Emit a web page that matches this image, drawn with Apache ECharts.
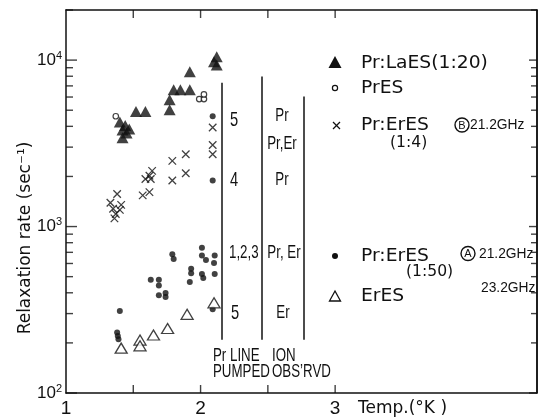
<!DOCTYPE html>
<html>
<head>
<meta charset="utf-8">
<script src="https://cdn.jsdelivr.net/npm/echarts@6/dist/echarts.min.js"></script>
<style>
  html, body { margin: 0; padding: 0; background: #fff; }
  #chart { width: 539px; height: 418px; }
</style>
</head>
<body>
<div id="chart"></div>
<script>
// Pr:LaES (1:20) — filled triangles
const laesTemp = [1.40, 1.44, 1.47, 1.42, 1.45, 1.42, 1.52, 1.59, 1.77, 1.77, 1.80, 1.85, 1.92, 1.92, 2.10, 2.12, 2.12];
const laesRate = [4250, 4050, 3850, 3800, 3650, 3420, 4920, 4920, 5780, 5040, 6630, 6630, 6630, 8510, 9770, 10460, 9340];

// PrES — small open circles
const presTemp = [1.37, 1.99, 2.025, 2.025];
const presRate = [4600, 5830, 5830, 6220];

// Pr:ErES (1:4), B 21.2 GHz — crosses
const erB_Temp = [1.33, 1.38, 1.41, 1.35, 1.40, 1.37, 1.36, 1.57, 1.62, 1.59, 1.63, 1.62, 1.64, 1.79, 1.79, 1.89, 1.89, 2.09, 2.09, 2.09];
const erB_Rate = [1390, 1570, 1350, 1280, 1260, 1190, 1120, 1540, 1610, 1930, 1930, 2020, 2160, 2480, 1890, 2720, 2090, 3940, 3090, 2720];

// Pr:ErES (1:50), A 21.2 GHz — filled dots
const erA_Temp = [1.40, 1.38, 1.385, 1.39, 1.63, 1.69, 1.69, 1.69, 1.74, 1.74, 1.79, 1.80, 1.93, 1.93, 1.92, 2.01, 2.01, 2.04, 2.01, 2.02, 2.105, 2.10, 2.105, 2.09, 2.09, 2.09];
const erA_Rate = [311, 231, 220, 210, 479, 479, 443, 387, 399, 377, 681, 638, 557, 525, 464, 747, 670, 630, 518, 490, 670, 603, 518, 318, 4600, 1890];

// ErES, 23.2 GHz — open triangles
const eresTemp = [1.41, 1.55, 1.55, 1.65, 1.755, 1.90, 2.10];
const eresRate = [186, 208, 192, 223, 244, 297, 348];

// Axis ticks
const xTickValues = [1.5, 2, 2.5, 3];
const xLabelValues = [1, 2, 3];
const yMajorValues = [100, 1000, 10000];
const yMinorValues = [];
yMajorValues.forEach(d => { for (let k = 2; k <= 9; k++) { if (d * k <= 20000) yMinorValues.push(d * k); } });

// Vertical divider lines of the pumping / observed-ion table: [temperature, top rate, bottom rate]
const dividerLines = [[2.16, 7300, 209], [2.458, 7960, 209], [2.764, 6050, 209]];

const pairs = (xs, ys) => xs.map((x, i) => [x, ys[i]]);

const chart = echarts.init(document.getElementById('chart'), null, { renderer: 'canvas' });

const black = '#111';
const sansFont = '"DejaVu Sans", sans-serif';
const plainFont = '"Liberation Sans", Arial, sans-serif';
const X_MIN = 1, X_MAX = 4.5;
const Y_MIN = 100, Y_MAX = 20000;

const isDecade = v => { const e = Math.log10(v); return Math.abs(e - Math.round(e)) < 1e-6; };

// Inward tick marks drawn as thin bar symbols sitting on the frame
function tickSeries(name, data, size, offset) {
  return { name: name, type: 'scatter', silent: true, clip: false, z: 4,
    symbol: 'rect', symbolSize: size, symbolOffset: offset,
    itemStyle: { color: black }, data: data };
}

function yAxisDef(position, labels) {
  return {
    type: 'log', min: Y_MIN, max: Y_MAX, position: position,
    axisLine: { show: true, onZero: false, lineStyle: { color: black, width: 1.5 } },
    axisTick: { show: false },
    axisLabel: labels ? {
      show: true, margin: 4, showMaxLabel: false,
      fontFamily: plainFont, fontSize: 17, color: black,
      formatter: v => isDecade(v) ? '10{s|' + Math.round(Math.log10(v)) + '}' : '',
      rich: { s: { fontSize: 11, fontFamily: plainFont, color: black, verticalAlign: 'top', padding: [0, 0, 9, 0] } }
    } : { show: false },
    splitLine: { show: false }
  };
}

// text helper; sx stretches or condenses the lettering horizontally
const text = (x, y, str, size, font, align, sx) => ({
  type: 'text', x: x, y: y, silent: true, scaleX: sx || 1,
  style: { text: str, fontSize: size, fontFamily: font || sansFont, fill: black,
           textAlign: align || 'left', textVerticalAlign: 'middle' }
});
const legendText = (x, y, str, size) => text(x, y, str, size || 18, sansFont, 'left', 1.04);
const tableText = (x, y, str, align, size) => text(x, y, str, size || 19, plainFont, align || 'left', 0.7);

const seg = (x1, y1, x2, y2, w) => ({ type: 'polyline', silent: true,
  shape: { points: [[x1, y1], [x2, y2]] }, style: { stroke: black, lineWidth: w || 1.4, fill: null } });

const graphics = [
  // y-axis title
  { type: 'text', x: 26, y: 238, rotation: Math.PI / 2, silent: true,
    style: { text: 'Relaxation rate (sec\u207B\u00B9)', fontSize: 17, fontFamily: sansFont, fill: black,
             textAlign: 'center', textVerticalAlign: 'middle' } },
  text(358, 409, 'Temp.(\u00B0K )', 17, sansFont),

  // legend keys
  { type: 'polygon', silent: true, shape: { points: [[335, 56], [341.5, 68], [328.5, 68]] }, style: { fill: black } },
  { type: 'circle', silent: true, shape: { cx: 335, cy: 88, r: 2.6 }, style: { fill: '#fff', stroke: black, lineWidth: 1.2 } },
  seg(333, 122, 340, 129, 1.3),
  seg(340, 122, 333, 129, 1.3),
  { type: 'circle', silent: true, shape: { cx: 335, cy: 256, r: 3 }, style: { fill: black } },
  { type: 'polygon', silent: true, shape: { points: [[335, 291], [340.5, 301], [329.5, 301]] }, style: { fill: '#fff', stroke: black, lineWidth: 1.3 } },

  // legend text
  legendText(361, 63, 'Pr:LaES(1:20)'),
  legendText(361, 88, 'PrES'),
  legendText(361, 125, 'Pr:ErES'),
  legendText(390, 143, '(1:4)', 15),
  legendText(361, 256, 'Pr:ErES'),
  legendText(406, 272, '(1:50)', 15),
  legendText(361, 296, 'ErES'),

  // frequency tags
  { type: 'circle', silent: true, shape: { cx: 462, cy: 125, r: 7 }, style: { fill: 'none', stroke: black, lineWidth: 1.4 } },
  text(462, 125.5, 'B', 11, plainFont, 'center'),
  text(470, 125, '21.2GHz', 15, plainFont, 'left', 0.92),
  { type: 'circle', silent: true, shape: { cx: 468, cy: 253.5, r: 7 }, style: { fill: 'none', stroke: black, lineWidth: 1.4 } },
  text(468, 254, 'A', 11, plainFont, 'center'),
  text(479, 254, '21.2GHz', 15, plainFont, 'left', 0.92),
  text(481, 288, '23.2GHz', 15, plainFont, 'left', 0.92),

  // pump / observed-ion table
  tableText(230, 120, '5', 'left', 21),
  tableText(230, 180, '4', 'left', 21),
  tableText(229, 253, '1,2,3'),
  tableText(231, 313, '5', 'left', 21),
  tableText(282, 116, 'Pr', 'center'),
  tableText(282, 144, 'Pr,Er', 'center'),
  tableText(282, 180, 'Pr', 'center'),
  tableText(284, 253, 'Pr, Er', 'center'),
  tableText(283, 313, 'Er', 'center'),
  tableText(213, 356, 'Pr LINE'),
  tableText(213, 372, 'PUMPED'),
  tableText(272, 356, 'ION'),
  tableText(272, 372, 'OBS\u2019RVD')
];

const frameLineStyle = { color: black, width: 1.5, type: 'solid' };

chart.setOption({
  animation: false,
  backgroundColor: '#fff',
  grid: { left: 66, right: 2, top: 10, bottom: 22, containLabel: false },
  xAxis: [
    { type: 'value', min: X_MIN, max: X_MAX, interval: 0.5, position: 'bottom',
      axisLine: { show: true, onZero: false, lineStyle: { color: black, width: 1.5 } },
      axisTick: { show: false },
      axisLabel: { show: true, customValues: xLabelValues, margin: 6, fontFamily: plainFont, fontSize: 19, color: black },
      splitLine: { show: false } },
    { type: 'value', min: X_MIN, max: X_MAX, interval: 0.5, position: 'top',
      axisLine: { show: true, onZero: false, lineStyle: { color: black, width: 1.5 } },
      axisTick: { show: false },
      axisLabel: { show: false }, splitLine: { show: false } }
  ],
  yAxis: [
    yAxisDef('left', true),
    yAxisDef('right', false)
  ],
  series: [
    tickSeries('rate major ticks left', yMajorValues.map(v => [X_MIN, v]), [11, 1.4], [5.5, 0]),
    tickSeries('rate minor ticks left', yMinorValues.map(v => [X_MIN, v]), [7, 1.4], [3.5, 0]),
    tickSeries('rate major ticks right', yMajorValues.map(v => [X_MAX, v]), [8, 1.4], [-4, 0]),
    tickSeries('rate minor ticks right', yMinorValues.map(v => [X_MAX, v]), [6, 1.4], [-3, 0]),
    tickSeries('temperature ticks bottom', xTickValues.map(t => [t, Y_MIN]), [1.4, 8], [0, -4]),
    tickSeries('temperature ticks top', xTickValues.map(t => [t, Y_MAX]), [1.4, 8], [0, 4]),
    { name: 'Pr:LaES(1:20)', type: 'scatter', symbol: 'triangle', symbolSize: [12, 11],
      itemStyle: { color: black }, data: pairs(laesTemp, laesRate),
      markLine: { silent: true, symbol: 'none', label: { show: false },
        lineStyle: frameLineStyle,
        data: dividerLines.map(d => [{ coord: [d[0], d[1]] }, { coord: [d[0], d[2]] }])
          .concat([[{ coord: [X_MAX, Y_MIN] }, { coord: [X_MAX, Y_MAX] }]]) } },
    { name: 'PrES', type: 'scatter', symbol: 'circle', symbolSize: 5.5,
      itemStyle: { color: '#fff', borderColor: black, borderWidth: 1.2 }, data: pairs(presTemp, presRate) },
    { name: 'Pr:ErES (1:4)', type: 'scatter', symbol: 'path://M0,0L10,10M0,10L10,0', symbolSize: 7.5,
      itemStyle: { color: 'none', borderColor: black, borderWidth: 1.3 }, data: pairs(erB_Temp, erB_Rate) },
    { name: 'Pr:ErES (1:50)', type: 'scatter', symbol: 'circle', symbolSize: 6,
      itemStyle: { color: black }, data: pairs(erA_Temp, erA_Rate) },
    { name: 'ErES', type: 'scatter', symbol: 'triangle', symbolSize: [12, 10],
      itemStyle: { color: '#fff', borderColor: black, borderWidth: 1.3 }, data: pairs(eresTemp, eresRate) }
  ],
  graphic: graphics
});
</script>
</body>
</html>
